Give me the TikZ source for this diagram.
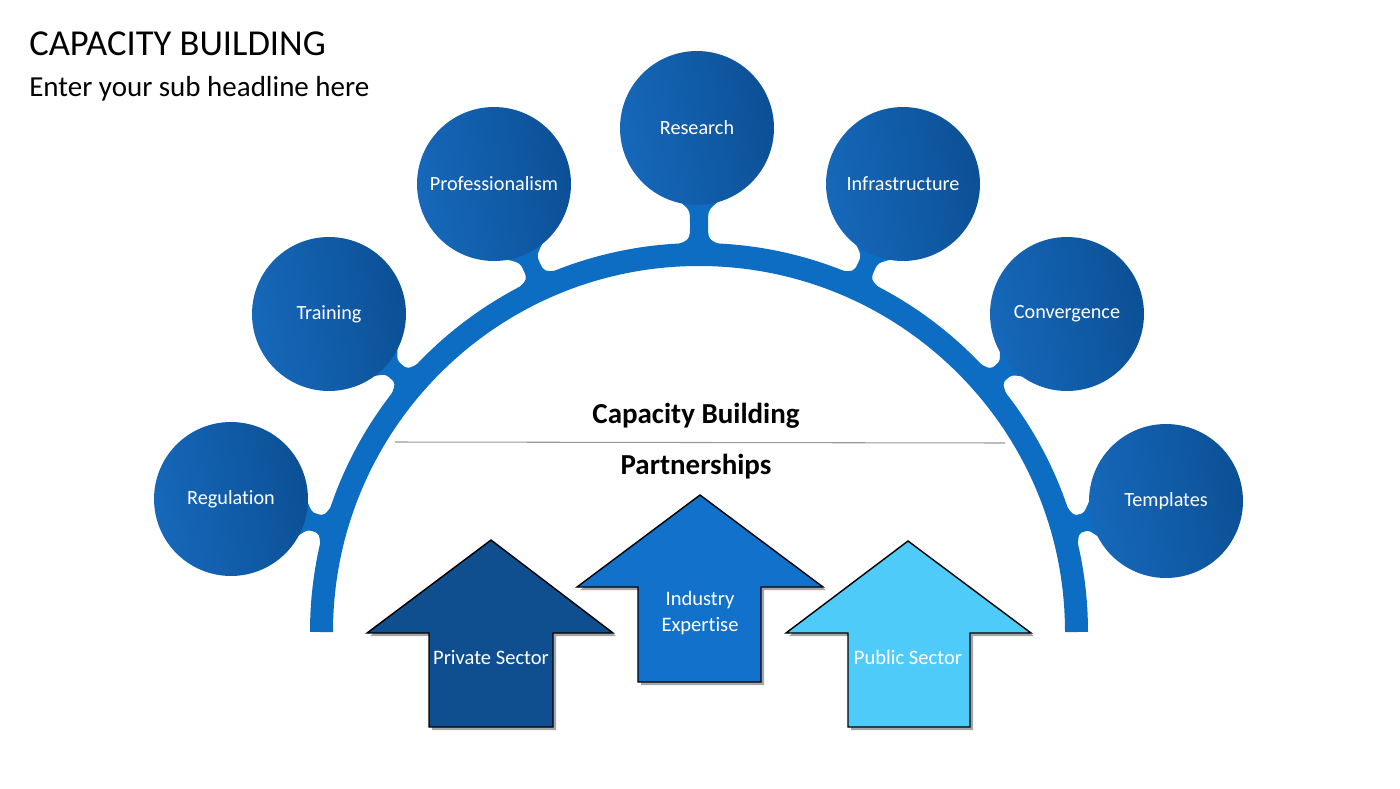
\documentclass[tikz,border=0pt]{standalone}
\usepackage{fontspec}
\setmainfont{Carlito}[Ligatures=NoCommon]
\usetikzlibrary{calc}
\definecolor{arcblue}{HTML}{0C6DC2}
\definecolor{bubleft}{HTML}{1668BA}
\definecolor{bubright}{HTML}{0C5096}
\definecolor{privblue}{HTML}{0F4E8F}
\definecolor{indblue}{HTML}{1271CB}
\definecolor{pubblue}{HTML}{4FCBF9}
\newcommand\mystem[2]{%
  \begin{scope}[shift={(699,632)},rotate=#1]
    \pgfmathsetmacro\se{#2-77}
    \pgfmathsetmacro\sm{(389+\se)/2}
    \fill[arcblue] (372,-26) -- (386,-26) .. controls (392,-9) .. (\sm,-9)
      .. controls ({\se-5},-9) .. ({\se+4},-20) -- ({\se+12},-20) -- ({\se+12},20)
      -- ({\se+4},20) .. controls ({\se-5},9) .. (\sm,9)
      .. controls (392,9) .. (386,26) -- (372,26) -- cycle;
  \end{scope}}
\begin{document}
\begin{tikzpicture}[x=0.02cm,y=-0.02cm,
  bub/.style={circle, minimum size=3.08cm, inner sep=0pt, text=white,
    left color=bubleft, right color=bubright, shading angle=100,
    font=\fontsize{11.5}{13}\selectfont},
  arrowbox/.style={draw=black, line width=0.8pt, line join=miter},
  arrowshadow/.style={fill=black, opacity=0.35},
  arrowlabel/.style={text=white, align=center, font=\fontsize{11.7}{14.5}\selectfont},
  heading/.style={font=\bfseries\fontsize{16.5}{19}\selectfont, text=black}]
\useasboundingbox (0,0) rectangle (1400,788);
\fill[white] (0,0) rectangle (1400,788);

% title
\node[anchor=base west, inner sep=0pt, font=\fontsize{20.8}{25}\selectfont] (title) at (29,55) {CAPACITY BUILDING};
\node[anchor=base west, inner sep=0pt, font=\fontsize{16.5}{19}\selectfont] (sub) at (29,96) {Enter your sub headline here};

% arch
\draw[arcblue, line width=0.46cm] (321.5,632) arc[start angle=180, end angle=360, radius=377.5];

% stems
\mystem{164.1}{487}
\mystem{139.3}{488}
\mystem{114.6}{492}
\mystem{90}{504}
\mystem{65.4}{492}
\mystem{40.7}{487}
\mystem{15.9}{485}

% bubbles
\node[bub] (reg) at (231,499) {Regulation};
\node[bub] (tra) at (329,314) {Training};
\node[bub] (pro) at (494,184) {Professionalism};
\node[bub] (res) at (697,128) {Research};
\node[bub] (inf) at (903,184) {Infrastructure};
\node[bub] (con) at (1067,314) {Convergence};
\node[bub] (tem) at (1166,501) {Templates};

% centre text
\node[heading] (cb) at (696,416) {Capacity Building};
\coordinate (dl) at (395,442);
\coordinate (dr) at (1005,443);
\draw[gray!80, line width=0.6pt] (dl) -- (dr);
\node[heading] (pa) at (696,467) {Partnerships};

% arrows
\foreach \dx/\dy in {3/3} {
  \fill[arrowshadow] ($(491,540)+(\dx,\dy)$) -- ($(613,633)+(\dx,\dy)$) -- ($(553,633)+(\dx,\dy)$) -- ($(553,727)+(\dx,\dy)$) -- ($(429,727)+(\dx,\dy)$) -- ($(429,633)+(\dx,\dy)$) -- ($(367,633)+(\dx,\dy)$) -- cycle;
  \fill[arrowshadow] ($(700,495)+(\dx,\dy)$) -- ($(823,587)+(\dx,\dy)$) -- ($(761,587)+(\dx,\dy)$) -- ($(761,682)+(\dx,\dy)$) -- ($(638,682)+(\dx,\dy)$) -- ($(638,587)+(\dx,\dy)$) -- ($(577,587)+(\dx,\dy)$) -- cycle;
  \fill[arrowshadow] ($(908,541)+(\dx,\dy)$) -- ($(1031,633)+(\dx,\dy)$) -- ($(970,633)+(\dx,\dy)$) -- ($(970,727)+(\dx,\dy)$) -- ($(848,727)+(\dx,\dy)$) -- ($(848,633)+(\dx,\dy)$) -- ($(786,633)+(\dx,\dy)$) -- cycle;
}
\filldraw[arrowbox, fill=privblue] (491,540) -- (613,633) -- (553,633) -- (553,727) -- (429,727) -- (429,633) -- (367,633) -- cycle;
\filldraw[arrowbox, fill=indblue] (700,495) -- (823,587) -- (761,587) -- (761,682) -- (638,682) -- (638,587) -- (577,587) -- cycle;
\filldraw[arrowbox, fill=pubblue] (908,541) -- (1031,633) -- (970,633) -- (970,727) -- (848,727) -- (848,633) -- (786,633) -- cycle;

\node[arrowlabel] (priv) at (491,657) {Private Sector};
\node[arrowlabel] (ind) at (700,613) {Industry\\Expertise};
\node[arrowlabel] (pub) at (908,657) {Public Sector};
\end{tikzpicture}
\end{document}
